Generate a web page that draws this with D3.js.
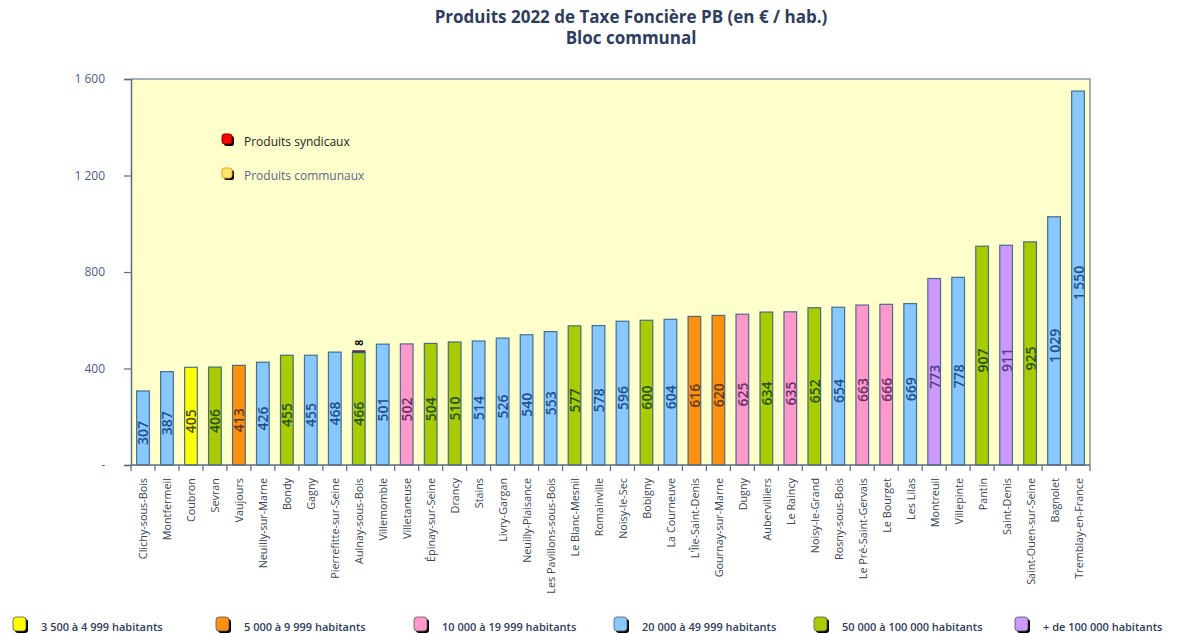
<!DOCTYPE html>
<html>
<head>
<meta charset="utf-8">
<script src="https://cdn.jsdelivr.net/npm/d3@7"></script>
<style>
  body { margin: 0; background: #fff; }
  svg text { font-family: "Open Sans", sans-serif; }
</style>
</head>
<body>
<div id="chart"></div>
<script>
// communes, sorted by total product
var communes = ["Clichy-sous-Bois", "Montfermeil", "Coubron", "Sevran", "Vaujours", "Neuilly-sur-Marne",
    "Bondy", "Gagny", "Pierrefitte-sur-Seine", "Aulnay-sous-Bois", "Villemomble", "Villetaneuse",
    "Épinay-sur-Seine", "Drancy", "Stains", "Livry-Gargan", "Neuilly-Plaisance", "Les Pavillons-sous-Bois",
    "Le Blanc-Mesnil", "Romainville", "Noisy-le-Sec", "Bobigny", "La Courneuve", "L'Île-Saint-Denis",
    "Gournay-sur-Marne", "Dugny", "Aubervilliers", "Le Raincy", "Noisy-le-Grand", "Rosny-sous-Bois",
    "Le Pré-Saint-Gervais", "Le Bourget", "Les Lilas", "Montreuil", "Villepinte", "Pantin",
    "Saint-Denis", "Saint-Ouen-sur-Seine", "Bagnolet", "Tremblay-en-France"];
var communaux = [307, 387, 405, 406, 413, 426, 455, 455, 468, 466, 501, 502, 504, 510, 514, 526, 540, 553,
    577, 578, 596, 600, 604, 616, 620, 625, 634, 635, 652, 654, 663, 666, 669, 773, 778, 907, 911, 925, 1029, 1550];
var syndicaux = [0, 0, 0, 0, 0, 0, 0, 0, 0, 8, 0, 0, 0, 0, 0, 0, 0, 0, 0, 0, 0, 0, 0, 0, 0, 0, 0, 0, 0, 0,
    0, 0, 0, 0, 0, 0, 0, 0, 0, 0];
// population strata index (see strates)
var strate = [3, 3, 0, 4, 1, 3, 4, 3, 3, 4, 3, 2, 4, 4, 3, 3, 3, 3, 4, 3, 3, 4, 3, 1, 1, 2, 4, 2, 4, 3,
    2, 2, 3, 5, 3, 4, 5, 4, 3, 3];
var strates = ["3 500 à 4 999 habitants", "5 000 à 9 999 habitants", "10 000 à 19 999 habitants",
    "20 000 à 49 999 habitants", "50 000 à 100 000 habitants", "+ de 100 000 habitants"];
var yTicks = [0, 400, 800, 1200, 1600];

var fills = ["#ffff00", "#ff9010", "#ff99cc", "#88c8ff", "#a8cc00", "#cc99ff"];
var labelColors = ["#4f5020", "#5f3a18", "#6a2f66", "#1f4f8a", "#2a5226", "#553a8c"];

var width = 1186, height = 634;
var margin = { top: 79, right: 96, bottom: 169, left: 131 };
var graphWidth = width - margin.left - margin.right;
var graphHeight = height - margin.top - margin.bottom;

var fr = d3.formatLocale({ decimal: ",", thousands: "\u00a0", grouping: [3], currency: ["", " €"] });
var fmt = fr.format(",d");
var fmtBar = d3.formatLocale({ decimal: ",", thousands: "\u2009", grouping: [3], currency: ["", ""] }).format(",d");

var svg = d3.select("#chart").append("svg")
    .attr("width", width)
    .attr("height", height);

// title
svg.append("text").attr("x", 631).attr("y", 23).attr("text-anchor", "middle")
    .style("font-weight", "bold").style("font-size", "17px")
    .style("fill", "#2f3d5c").text("Produits 2022 de Taxe Foncière PB (en € / hab.)");
svg.append("text").attr("x", 631).attr("y", 44).attr("text-anchor", "middle")
    .style("font-weight", "bold").style("font-size", "17px")
    .style("fill", "#2f3d5c").text("Bloc communal");

var g = svg.append("g").attr("transform", `translate(${margin.left},${margin.top})`);

var xScale = d3.scaleBand().domain(communes).range([0, graphWidth]).paddingInner(0.47).paddingOuter(0.235);
var yScale = d3.scaleLinear().domain([0, 1600]).range([graphHeight, 0]);

// plot background
g.append("rect").attr("width", graphWidth).attr("height", graphHeight)
    .attr("fill", "#ffffcc");
g.append("path").attr("d", `M0,0H${graphWidth}V${graphHeight}`)
    .attr("fill", "none").attr("stroke", "#8a98aa").attr("stroke-width", 1.5);

// bars
var bars = g.selectAll("g.bar").data(communes).enter().append("g").attr("class", "bar");
bars.append("rect")
    .attr("x", d => xScale(d))
    .attr("width", xScale.bandwidth())
    .attr("y", (d, i) => yScale(communaux[i]))
    .attr("height", (d, i) => graphHeight - yScale(communaux[i]))
    .attr("fill", (d, i) => fills[strate[i]])
    .attr("stroke", "#2f5a80").attr("stroke-width", 1.2).attr("stroke-opacity", 0.85);

bars.filter((d, i) => syndicaux[i] > 0).append("rect")
    .attr("x", d => xScale(d))
    .attr("width", xScale.bandwidth())
    .attr("y", d => { var i = communes.indexOf(d); return yScale(communaux[i] + syndicaux[i]); })
    .attr("height", d => { var i = communes.indexOf(d); return yScale(communaux[i]) - yScale(communaux[i] + syndicaux[i]); })
    .attr("fill", "#8b1a3a").attr("stroke", "#2f5a80").attr("stroke-width", 0.8);

bars.filter((d, i) => syndicaux[i] > 0).append("text")
    .attr("transform", d => {
        var i = communes.indexOf(d);
        return `translate(${xScale(d) + xScale.bandwidth() / 2},${yScale(communaux[i] + syndicaux[i]) - 8}) rotate(-90)`;
    })
    .attr("text-anchor", "middle").attr("dominant-baseline", "central")
    .style("font-size", "10.5px").style("font-weight", "bold").style("fill", "#111")
    .text(d => fmt(syndicaux[communes.indexOf(d)]));

bars.append("text")
    .attr("transform", (d, i) => `translate(${xScale(d) + xScale.bandwidth() / 2},${(yScale(communaux[i]) + graphHeight) / 2 + 5}) rotate(-90)`)
    .attr("text-anchor", "middle").attr("dominant-baseline", "central")
    .style("font-size", "14px").style("font-weight", "600")
    .style("fill", (d, i) => labelColors[strate[i]])
    .text((d, i) => fmtBar(communaux[i]));

// y axis
var yAxis = g.append("g")
    .call(d3.axisLeft(yScale).tickValues(yTicks).tickSize(7).tickPadding(19)
        .tickFormat(v => v === 0 ? "-" : fmt(v)));
yAxis.select(".domain").attr("stroke", "#5b6b80").attr("stroke-width", 1.5);
yAxis.selectAll(".tick line").attr("stroke", "#5b6b80").attr("stroke-width", 1.2);
yAxis.selectAll(".tick text").style("font-size", "12px").style("fill", "#4a5c85")
    .style("font-family", "Open Sans");

// x axis
var xAxis = g.append("g").attr("transform", `translate(0,${graphHeight})`);
xAxis.append("line").attr("x1", 0).attr("x2", graphWidth)
    .attr("stroke", "#5b6b80").attr("stroke-width", 1.5);
var step = xScale.step();
xAxis.selectAll("line.tk").data(d3.range(communes.length + 1)).enter().append("line")
    .attr("class", "tk")
    .attr("x1", i => i * step).attr("x2", i => i * step)
    .attr("y1", 0).attr("y2", 6)
    .attr("stroke", "#5b6b80").attr("stroke-width", 1.2);
xAxis.selectAll("text").data(communes).enter().append("text")
    .attr("transform", d => `translate(${xScale(d) + xScale.bandwidth() / 2},13) rotate(-90)`)
    .attr("text-anchor", "end").attr("dominant-baseline", "central")
    .style("font-size", "10.8px").style("fill", "#3a4658")
    .text(d => d);

// top legend
var topLegend = [
    { label: "Produits syndicaux", fill: "#ff0000", stroke: "#7a0000", color: "#222" },
    { label: "Produits communaux", fill: "#f2e870", stroke: "#ff9a20", color: "#5a6888" }
];
var tl = svg.append("g").selectAll("g").data(topLegend).enter().append("g")
    .attr("transform", (d, i) => `translate(222,${134 + i * 34})`);
tl.append("rect").attr("x", 2).attr("y", 2).attr("width", 10).attr("height", 10).attr("rx", 2.5).attr("fill", "#000");
tl.append("rect").attr("width", 10).attr("height", 10).attr("rx", 2.5)
    .attr("fill", d => d.fill).attr("stroke", d => d.stroke).attr("stroke-width", 1);
tl.append("text").attr("x", 22).attr("y", 7).attr("dominant-baseline", "central")
    .style("font-size", "12px").style("fill", d => d.color).text(d => d.label);

// bottom legend
var legendX = [13, 216, 414, 614, 814, 1015];
var bl = svg.append("g").selectAll("g").data(strates).enter().append("g")
    .attr("transform", (d, i) => `translate(${legendX[i]},617)`);
bl.append("rect").attr("x", 2).attr("y", 2).attr("width", 13).attr("height", 14).attr("rx", 3).attr("fill", "#000");
bl.append("rect").attr("width", 13).attr("height", 14).attr("rx", 3)
    .attr("fill", (d, i) => fills[i]).attr("stroke", "#555").attr("stroke-width", 0.8);
bl.append("text").attr("x", 28).attr("y", 9).attr("dominant-baseline", "central")
    .style("font-size", "11px").style("font-weight", "600").style("fill", "#2f3d5c")
    .text(d => d);
</script>
</body>
</html>
